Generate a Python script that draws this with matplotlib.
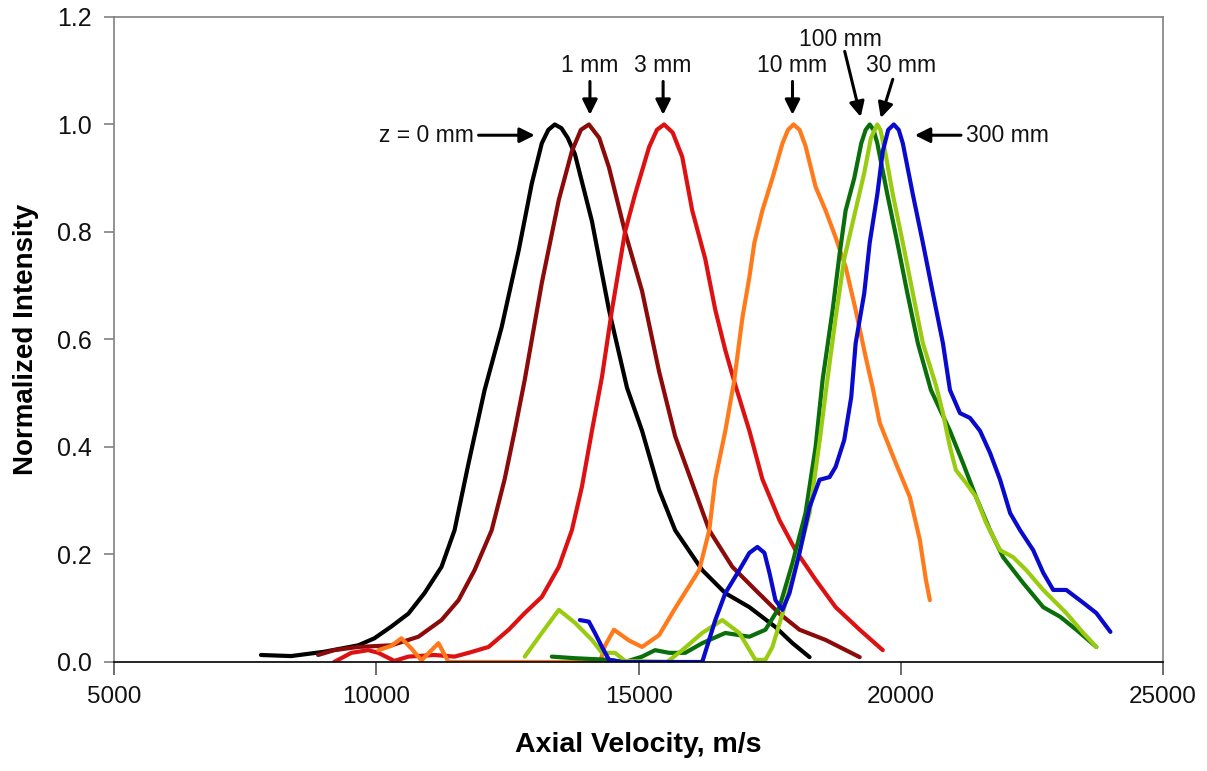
import matplotlib
matplotlib.use("Agg")
import matplotlib.pyplot as plt

# ---------------- data ----------------
z0_x = [7801, 8375, 9006, 9656, 9962, 10287, 10612, 10918, 11243, 11491, 11759, 12065, 12390, 12715,
        12964, 13155, 13280, 13403, 13530, 13650, 13786, 14111, 14436, 14780, 15067, 15392, 15698, 16214,
        16654, 17113, 17610, 17935, 18260]
z0_y = [0.013, 0.011, 0.019, 0.031, 0.044, 0.066, 0.09, 0.128, 0.177, 0.245, 0.37, 0.506, 0.623, 0.766,
        0.89, 0.965, 0.99, 1.0, 0.993, 0.975, 0.945, 0.82, 0.655, 0.51, 0.43, 0.32, 0.245, 0.171,
        0.128, 0.102, 0.065, 0.035, 0.009]

z1_x = [8891, 9197, 9656, 10287, 10803, 11243, 11568, 11874, 12199, 12447, 12639, 12830, 13155, 13480,
        13728, 13900, 14053, 14250, 14436, 14742, 15067, 15392, 15698, 16348, 16788, 17227, 17686, 18069,
        18566, 19216]
z1_y = [0.013, 0.022, 0.028, 0.031, 0.047, 0.078, 0.115, 0.171, 0.245, 0.34, 0.43, 0.525, 0.705, 0.86,
        0.95, 0.99, 1.0, 0.975, 0.92, 0.80, 0.69, 0.54, 0.42, 0.245, 0.177, 0.134, 0.09, 0.06,
        0.041, 0.009]

z3_x = [9197, 9522, 9847, 10038, 10344, 10612, 11109, 11491, 11759, 12141, 12524, 12830, 13155, 13480,
        13728, 13920, 14111, 14302, 14493, 14742, 14933, 15201, 15350, 15487, 15650, 15832, 16023, 16271,
        16463, 16654, 16845, 17113, 17361, 17686, 17992, 18375, 18757, 19216, 19656]
z3_y = [0.0, 0.017, 0.022, 0.017, 0.002, 0.01, 0.013, 0.01, 0.017, 0.028, 0.06, 0.091, 0.121, 0.177,
        0.245, 0.326, 0.43, 0.53, 0.655, 0.80, 0.87, 0.958, 0.99, 1.0, 0.985, 0.94, 0.84, 0.75,
        0.655, 0.58, 0.515, 0.43, 0.34, 0.264, 0.208, 0.153, 0.102, 0.06, 0.022]

z10_x = [10038, 10287, 10478, 10669, 10860, 11185, 11377, 12772, 14264, 14359, 14531, 14818, 15067, 15392,
         15698, 16157, 16348, 16463, 16654, 16826, 16979, 17113, 17208, 17361, 17552, 17744, 17850, 17954,
         18070, 18183, 18375, 18566, 18757, 18948, 19139, 19331, 19464, 19598, 19904, 20172, 20363, 20478,
         20554]
z10_y = [0.022, 0.03, 0.044, 0.025, 0.003, 0.035, 0.0, 0.0, 0.0, 0.03, 0.06, 0.04, 0.028, 0.05,
         0.10, 0.171, 0.245, 0.34, 0.43, 0.525, 0.64, 0.716, 0.78, 0.84, 0.90, 0.965, 0.99, 1.0,
         0.99, 0.96, 0.884, 0.84, 0.79, 0.735, 0.655, 0.567, 0.51, 0.445, 0.37, 0.307, 0.227, 0.153,
         0.115]

z30_x = [12830, 13155, 13480, 13786, 14111, 14302, 14551, 14742, 15545, 15832, 16214, 16596, 16921, 17227,
         17419, 17552, 17744, 17992, 18260, 18451, 18566, 18757, 18921, 19112, 19303, 19430, 19552, 19610,
         19700, 19847, 20038, 20229, 20420, 20669, 20803, 20937, 21051, 21243, 21434, 21625, 21893, 22141,
         22390, 22715, 23155, 23480, 23728]
z30_y = [0.01, 0.054, 0.097, 0.073, 0.041, 0.017, 0.017, 0.002, 0.0, 0.022, 0.054, 0.078, 0.054, 0.004,
         0.004, 0.028, 0.09, 0.177, 0.277, 0.41, 0.50, 0.64, 0.75, 0.83, 0.91, 0.975, 1.0, 0.99,
         0.95, 0.87, 0.78, 0.686, 0.593, 0.515, 0.463, 0.40, 0.357, 0.333, 0.307, 0.259, 0.208, 0.195,
         0.171, 0.134, 0.091, 0.054, 0.028]

z100_x = [13346, 13786, 14436, 14742, 15067, 15315, 15583, 15889, 16214, 16654, 17113, 17419, 17686, 17935,
          18183, 18375, 18509, 18700, 18834, 18948, 19112, 19246, 19330, 19407, 19480, 19552, 19743, 19934,
          20125, 20325, 20574, 20937, 21185, 21434, 21701, 21950, 22332, 22715, 23040, 23346, 23728]
z100_y = [0.01, 0.007, 0.004, 0.0, 0.01, 0.022, 0.017, 0.017, 0.035, 0.054, 0.047, 0.06, 0.102, 0.184,
          0.277, 0.40, 0.525, 0.655, 0.76, 0.84, 0.90, 0.965, 0.99, 1.0, 0.99, 0.965, 0.87, 0.78,
          0.686, 0.593, 0.506, 0.43, 0.37, 0.307, 0.245, 0.195, 0.147, 0.102, 0.084, 0.06, 0.028]

z300_x = [13881, 14053, 14168, 14302, 14436, 14684, 16214, 16463, 16654, 16921, 17113, 17266, 17400, 17495,
          17610, 17744, 17877, 18069, 18260, 18451, 18642, 18757, 18921, 19055, 19139, 19303, 19407, 19552,
          19656, 19760, 19866, 19960, 20038, 20229, 20420, 20611, 20803, 20937, 21128, 21319, 21510, 21701,
          21893, 22084, 22275, 22524, 22715, 22906, 23155, 23480, 23728, 23996]
z300_y = [0.078, 0.075, 0.054, 0.028, 0.004, 0.0, 0.0, 0.078, 0.128, 0.171, 0.203, 0.214, 0.203, 0.166,
          0.115, 0.097, 0.128, 0.203, 0.288, 0.339, 0.344, 0.363, 0.413, 0.493, 0.593, 0.686, 0.78, 0.87,
          0.95, 0.99, 1.0, 0.99, 0.965, 0.87, 0.78, 0.686, 0.593, 0.506, 0.463, 0.454, 0.43, 0.389,
          0.339, 0.277, 0.245, 0.208, 0.166, 0.134, 0.134, 0.11, 0.091, 0.056]

series = [
    (z0_x, z0_y, "#000000"),
    (z1_x, z1_y, "#8B0A0A"),
    (z3_x, z3_y, "#DD1111"),
    (z10_x, z10_y, "#FF7A1A"),
    (z100_x, z100_y, "#0A6E0A"),
    (z30_x, z30_y, "#99CC11"),
    (z300_x, z300_y, "#0A0ACC"),
]

x_ticks = [5000, 10000, 15000, 20000, 25000]
y_ticks = [0.0, 0.2, 0.4, 0.6, 0.8, 1.0, 1.2]

# annotations: (text, text_xy, arrow_tail, arrow_tip, ha)
annotations = [
    ("z = 0 mm", (11855, 0.980), (11950, 0.980), (13021, 0.980), "right"),
    ("1 mm", (14073, 1.110), (14073, 1.080), (14073, 1.018), "center"),
    ("3 mm", (15468, 1.110), (15468, 1.080), (15468, 1.018), "center"),
    ("10 mm", (17935, 1.110), (17935, 1.080), (17935, 1.018), "center"),
    ("100 mm", (18853, 1.158), (18930, 1.136), (19235, 1.014), "center"),
    ("30 mm", (20000, 1.110), (19847, 1.084), (19618, 1.012), "center"),
    ("300 mm", (21243, 0.980), (21147, 0.980), (20268, 0.980), "left"),
]

# ---------------- figure ----------------
plt.rcParams['font.family'] = ['Liberation Sans', 'DejaVu Sans']
fig = plt.figure(figsize=(12.07, 7.71), dpi=100)
ax = fig.add_axes([0.0945, 0.1414, 0.8691, 0.8366])

for xs, ys, c in series:
    ax.plot(xs, ys, color=c, lw=3.0, solid_joinstyle='round', solid_capstyle='round')

ax.set_xlim(5000, 25000)
ax.set_ylim(0, 1.2)
ax.set_xticks(x_ticks)
ax.set_yticks(y_ticks)
ax.set_yticklabels([f"{v:.1f}" for v in y_ticks])
ax.set_xticklabels([str(v) for v in x_ticks])

for s in ['left', 'top', 'right']:
    ax.spines[s].set_color('#808080')
    ax.spines[s].set_linewidth(1.2)
ax.spines['bottom'].set_color('#000000')
ax.spines['bottom'].set_linewidth(1.2)

ax.tick_params(axis='y', direction='out', length=7, width=1.2, color='#808080',
               labelsize=18, pad=9, labelcolor='#111111')
ax.tick_params(axis='x', direction='out', length=9, width=1.2, color='#555555',
               labelsize=17.5, pad=8, labelcolor='#111111')

ax.set_ylabel("Normalized Intensity", fontsize=20, fontweight='bold')
ax.yaxis.set_label_coords(-0.072, 0.5)
ax.set_xlabel("Axial Velocity, m/s", fontsize=20.5, fontweight='bold')
ax.xaxis.set_label_coords(0.5, -0.108)

for txt, txy, tail, tip, ha in annotations:
    ax.annotate("", xy=tip, xytext=tail,
                arrowprops=dict(arrowstyle="-|>,head_length=0.9,head_width=0.45",
                                color='black', lw=2.2, shrinkA=0, shrinkB=0))
    ax.text(txy[0], txy[1], txt, ha=ha, va='center', fontsize=16.5, color='#111111')

fig.savefig("out.png", dpi=100, facecolor='white')
